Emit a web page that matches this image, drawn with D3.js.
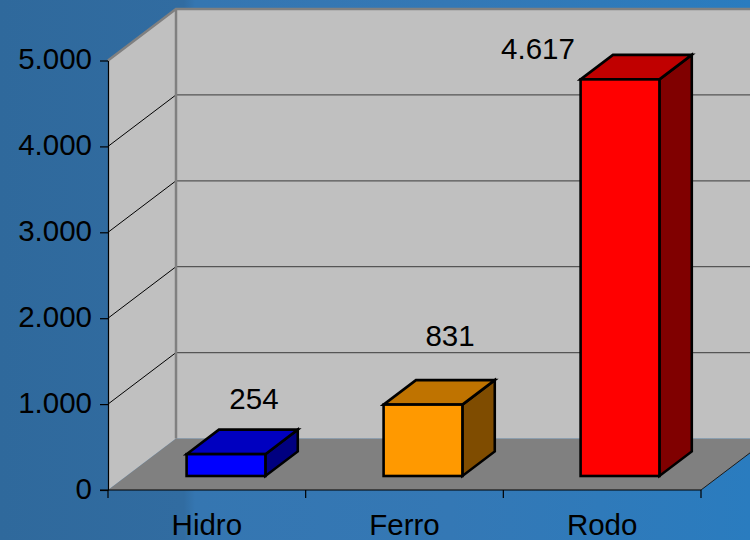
<!DOCTYPE html>
<html><head><meta charset="utf-8">
<script src="https://cdn.jsdelivr.net/npm/d3@7"></script>
<style>html,body{margin:0;padding:0;overflow:hidden;background:#306ca0}</style>
</head><body>
<svg id="c" width="750" height="540"></svg>
<script>
// ---- data ----
const categories = ["Hidro", "Ferro", "Rodo"];
const values = [254, 831, 4617];
const yTicks = [0, 1000, 2000, 3000, 4000, 5000];
const frontColors = ["#0000ff", "#ff9900", "#ff0000"];
const topColors = ["#0000c0", "#bf7300", "#c00000"];
const sideColors = ["#000080", "#7f4c00", "#800000"];
// label nudges (layout only) relative to bar front-top centre
const labelNudgeX = [28, 27, -82];
const labelNudgeY = [-45, -59, -20];

const svg = d3.select("#c");
const W = 750, H = 540;
const left = 108, right = 701, base = 490, top5 = 60.5;
const DX = 68, DY = 51.5; // depth offset
const font = "'Liberation Sans', Arial, sans-serif";
const fs = 29.5;

const fmt = d3.formatLocale({decimal: ",", thousands: ".", grouping: [3], currency: ["R$", ""]}).format(",d");

// background
const defs = svg.append("defs");
const g1 = defs.append("linearGradient").attr("id", "bg").attr("x1", 0).attr("x2", 1).attr("y1", 0).attr("y2", 0);
[[0, "#2f699c"], [0.245, "#316ca1"], [0.26, "#3576b1"], [0.6, "#3478b5"], [1, "#2a7cbf"]]
  .forEach(([o, c]) => g1.append("stop").attr("offset", o).attr("stop-color", c));
svg.append("rect").attr("width", W).attr("height", H).attr("fill", "url(#bg)");

const y = d3.scaleLinear().domain([0, 5000]).range([base, top5]);
const xEdge = d3.scaleLinear().domain([0, categories.length]).range([left, right]);
const xCat = d3.scaleBand().domain(categories).range([left, right]).padding(0);
const xBar = d3.scaleBand().domain(categories).range([left, right]).paddingInner(0.6).paddingOuter(0.305);

const P = (pts) => "M" + pts.map(p => p.join(",")).join("L") + "Z";

// floor
svg.append("path")
  .attr("d", P([[left, base], [right, base], [right + DX, base - DY], [left + DX, base - DY]]))
  .attr("fill", "#808080");
// back wall
svg.append("path")
  .attr("d", P([[left + DX, y(5000) - DY], [right + DX, y(5000) - DY], [right + DX, base - DY], [left + DX, base - DY]]))
  .attr("fill", "#c0c0c0");
// side wall
svg.append("path")
  .attr("d", P([[left, y(5000)], [left + DX, y(5000) - DY], [left + DX, base - DY], [left, base]]))
  .attr("fill", "#c0c0c0");

// gridlines
const gt = yTicks.filter(t => t > 0 && t < 5000);
svg.selectAll(".gb").data(gt).join("line")
  .attr("x1", left + DX).attr("x2", right + DX)
  .attr("y1", d => y(d) - DY).attr("y2", d => y(d) - DY)
  .attr("stroke", "#555").attr("stroke-width", 1.3);
svg.selectAll(".gs").data(gt).join("line")
  .attr("x1", left).attr("x2", left + DX)
  .attr("y1", d => y(d)).attr("y2", d => y(d) - DY)
  .attr("stroke", "#000").attr("stroke-width", 1);

// wall edges
svg.append("path")
  .attr("d", `M${left},${y(5000)}L${left + DX},${y(5000) - DY}L${right + DX},${y(5000) - DY}`)
  .attr("fill", "none").attr("stroke", "#808080").attr("stroke-width", 2.5);
svg.append("line")
  .attr("x1", left + DX).attr("x2", left + DX).attr("y1", y(5000) - DY).attr("y2", base - DY)
  .attr("stroke", "#808080").attr("stroke-width", 2.5);
// floor right edge
svg.append("line")
  .attr("x1", right).attr("y1", base).attr("x2", right + DX).attr("y2", base - DY)
  .attr("stroke", "#1a1a1a").attr("stroke-width", 1);

// bars
const f1 = 0.272, f2 = 0.748;
const bars = svg.selectAll(".bar").data(categories).join("g");
bars.each(function (c, i) {
  const g = d3.select(this);
  const x0 = xBar(c) + f1 * DX, x1 = x0 + xBar.bandwidth();
  const yb = y(0) - f1 * DY, yt = y(values[i]) - f1 * DY;
  const ddx = (f2 - f1) * DX, ddy = (f2 - f1) * DY;
  const st = {stroke: "#000", "stroke-width": 2.6, "stroke-linejoin": "miter"};
  const apply = (s) => Object.entries(st).forEach(([k, v]) => s.attr(k, v));
  apply(g.append("path").attr("d", P([[x1, yt], [x1 + ddx, yt - ddy], [x1 + ddx, yb - ddy], [x1, yb]])).attr("fill", sideColors[i]));
  apply(g.append("path").attr("d", P([[x0, yt], [x0 + ddx, yt - ddy], [x1 + ddx, yt - ddy], [x1, yt]])).attr("fill", topColors[i]));
  apply(g.append("rect").attr("x", x0).attr("y", yt).attr("width", x1 - x0).attr("height", yb - yt).attr("fill", frontColors[i]));
  g.append("text")
    .attr("x", (x0 + x1) / 2 + labelNudgeX[i]).attr("y", yt + labelNudgeY[i])
    .attr("text-anchor", "middle").attr("font-family", font).attr("font-size", fs)
    .attr("fill", "#000").text(fmt(values[i]));
});

// value axis
const ya = svg.append("g").attr("transform", `translate(${left},0)`)
  .call(d3.axisLeft(y).tickValues(yTicks).tickFormat(fmt).tickSize(8).tickPadding(8).tickSizeOuter(0));
ya.select(".domain").attr("stroke", "#000").attr("stroke-width", 1.2);
ya.selectAll(".tick line").attr("stroke", "#000").attr("stroke-width", 1.2);
ya.selectAll("text").attr("font-family", font).attr("font-size", fs).attr("fill", "#000").attr("dy", "0.28em");

// category axis
svg.append("line").attr("x1", left - 8).attr("x2", right).attr("y1", base).attr("y2", base)
  .attr("stroke", "#000").attr("stroke-width", 1.2);
svg.selectAll(".ct").data(d3.range(categories.length + 1)).join("line")
  .attr("x1", d => xEdge(d)).attr("x2", d => xEdge(d)).attr("y1", base).attr("y2", base + 8)
  .attr("stroke", "#000").attr("stroke-width", 1.2);
svg.selectAll(".cl").data(categories).join("text")
  .attr("x", d => xCat(d) + xCat.bandwidth() / 2).attr("y", 535)
  .attr("text-anchor", "middle").attr("font-family", font).attr("font-size", fs).attr("fill", "#000")
  .text(d => d);
</script>
</body></html>
